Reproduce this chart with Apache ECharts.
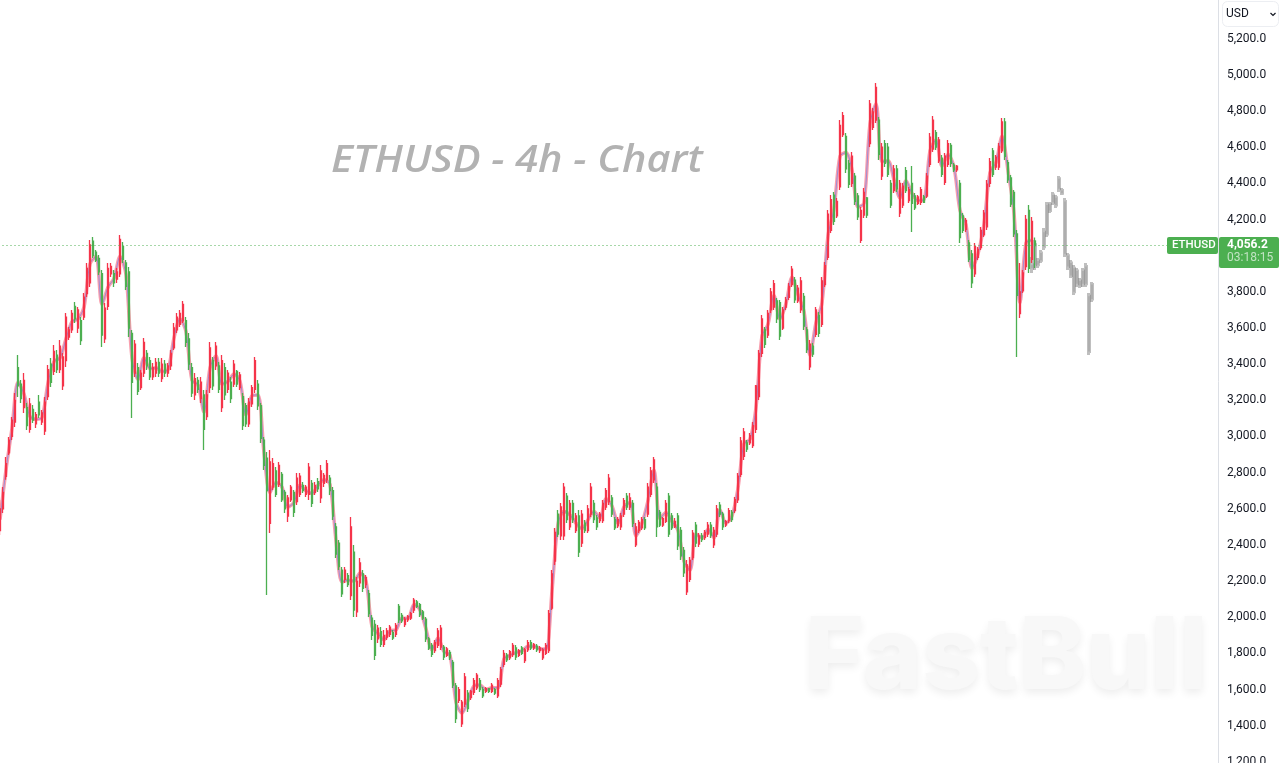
<!DOCTYPE html>
<html><head><meta charset="utf-8">
<style>html,body{margin:0;padding:0;background:#fff}#c{width:1282px;height:763px}</style>
<script src="https://cdn.jsdelivr.net/npm/echarts@6/dist/echarts.min.js"></script>
</head><body><div id="c"></div>
<script>
// every row: [open, close, low, high]
const barsA = [[2480,2600,2455,2648],[2600,2690,2577,2720],[2780,2850,2760,2886],[2910,2980,2897,2997],[3000,3090,2980,3107],[3080,3200,3052,3240],[3380,3280,3218,3450],[3290,3210,3185,3312],[3160,3310,3130,3351],[3160,3060,3036,3185],[3040,3180,3020,3213],[3150,3090,3074,3174],[3070,3120,3047,3135],[3190,3120,3102,3229],[3080,3130,3063,3146],[3030,3190,3008,3218],[3220,3370,3202,3395],[3400,3300,3273,3434],[3360,3470,3340,3506],[3450,3370,3351,3478],[3370,3500,3351,3533],[3280,3440,3257,3462],[3420,3660,3384,3683],[3550,3590,3533,3605],[3590,3680,3572,3699],[3720,3650,3627,3744],[3600,3700,3572,3716],[3640,3530,3506,3661],[3660,3770,3644,3793],[3790,3930,3771,3959],[3850,4060,3827,4087],[4080,4000,3987,4103],[4020,3975,3965,4031],[3985,3910,3893,4004],[3900,3560,3495,3921],[3540,3710,3517,3738],[3720,3930,3699,3959],[3900,3940,3882,3959],[3900,3850,3827,3921],[3870,3910,3849,3932],[3900,4090,3882,4114],[4050,3980,3959,4076],[3960,3830,3810,3976],[3910,3600,3550,3937]];
const barsB = [[3570,3300,3102,3589],[3350,3510,3329,3533],[3380,3250,3229,3406],[3270,3350,3257,3368],[3350,3520,3329,3544],[3460,3390,3368,3478],[3420,3330,3312,3439],[3330,3380,3312,3406],[3350,3410,3329,3434],[3410,3350,3329,3434],[3320,3400,3301,3434],[3400,3350,3329,3423],[3350,3390,3329,3406],[3390,3460,3368,3478],[3490,3600,3478,3627],[3590,3660,3572,3683],[3620,3680,3605,3699],[3640,3730,3627,3749],[3640,3520,3495,3661],[3540,3400,3368,3572],[3380,3240,3218,3406],[3230,3320,3202,3351],[3310,3260,3240,3329],[3210,3300,3185,3329],[3230,3040,2925,3257],[3110,3230,3091,3257],[3270,3490,3240,3522],[3420,3280,3257,3439],[3390,3500,3368,3522],[3390,3260,3240,3412],[3160,3420,3135,3450],[3380,3230,3202,3406],[3260,3350,3240,3368],[3300,3210,3185,3329],[3290,3400,3273,3423],[3360,3290,3273,3368],[3270,3340,3257,3357],[3220,3060,3036,3240],[3170,3070,3052,3185],[3070,3190,3052,3213],[3180,3270,3163,3284],[3260,3420,3240,3439],[3290,3170,3146,3312],[3170,2990,2964,3185],[2980,2840,2814,2997]];
const barsC = [[2880,2700,2123,2914],[2520,2860,2466,2925],[2720,2850,2704,2881],[2810,2680,2665,2831],[2735,2840,2720,2859],[2790,2650,2637,2803],[2690,2600,2576,2704],[2560,2660,2527,2676],[2650,2720,2637,2732],[2690,2580,2554,2704],[2640,2770,2621,2798],[2680,2780,2665,2798],[2730,2700,2687,2748],[2680,2720,2665,2732],[2680,2830,2648,2853],[2740,2630,2610,2759],[2690,2730,2676,2748],[2750,2710,2693,2770],[2660,2810,2632,2842],[2740,2785,2720,2798],[2760,2850,2743,2870],[2770,2700,2676,2787],[2700,2560,2538,2720],[2500,2350,2328,2521],[2410,2280,2261,2427],[2260,2130,2112,2278],[2210,2260,2190,2278],[2230,2180,2167,2245],[2120,2500,2095,2554],[2360,2040,2002,2400],[2030,2200,2002,2223],[2190,2300,2167,2328],[2240,2160,2140,2261],[2180,2220,2162,2234],[2130,2020,2002,2151],[1995,1900,1874,2012],[1960,1790,1764,1985],[1880,1940,1858,1957],[1920,1850,1835,1946],[1850,1900,1835,1929],[1890,1925,1874,1940],[1905,1945,1891,1957],[1915,1885,1874,1929],[1905,1955,1891,1968],[2060,1985,1968,2073],[2010,1980,1968,2023],[1960,1990,1946,2002],[1985,2005,1974,2012],[1995,2020,1985,2029],[2040,2095,2023,2107],[2085,2060,2051,2095],[2070,2015,2002,2079],[2030,1995,1985,2040],[1990,1880,1863,2002],[1880,1830,1819,1891],[1845,1795,1780,1858],[1815,1860,1802,1874],[1845,1925,1830,1940],[1835,1940,1819,1957],[1835,1780,1764,1846],[1790,1825,1780,1835],[1805,1775,1764,1819]];
const barsD = [[1750,1625,1609,1764],[1620,1440,1415,1636],[1540,1600,1526,1614],[1410,1530,1393,1542],[1520,1670,1503,1692],[1580,1495,1476,1598],[1555,1590,1542,1598],[1585,1650,1570,1664],[1610,1680,1598,1692],[1650,1600,1586,1664],[1600,1565,1553,1614],[1590,1605,1581,1614],[1605,1590,1581,1609],[1590,1625,1581,1636],[1600,1580,1570,1609],[1565,1650,1553,1664],[1630,1710,1614,1725],[1740,1800,1725,1819],[1790,1765,1753,1802],[1775,1810,1764,1819],[1795,1845,1780,1858],[1830,1780,1764,1846],[1790,1815,1780,1824],[1830,1800,1791,1841],[1760,1820,1747,1830],[1820,1860,1808,1874],[1860,1830,1819,1874],[1830,1850,1819,1858],[1840,1820,1808,1852],[1815,1830,1802,1841],[1775,1820,1764,1830],[1800,1845,1791,1858],[1815,2020,1802,2040],[2050,2240,2040,2261],[2310,2470,2289,2494],[2570,2460,2444,2593],[2450,2610,2427,2632],[2450,2720,2427,2743]];
const barsE = [[2670,2540,2521,2687],[2500,2630,2483,2648],[2630,2540,2521,2648],[2480,2560,2466,2577],[2560,2360,2333,2593],[2410,2570,2388,2593],[2520,2480,2466,2538],[2480,2600,2466,2621],[2570,2720,2554,2743],[2630,2540,2521,2648],[2550,2500,2483,2565],[2535,2570,2521,2582],[2535,2630,2521,2648],[2610,2700,2593,2715],[2640,2770,2621,2792],[2660,2570,2554,2676],[2540,2495,2483,2554],[2505,2540,2494,2554],[2500,2560,2483,2577],[2570,2645,2554,2659],[2670,2610,2593,2687],[2610,2660,2593,2687],[2630,2520,2499,2648],[2400,2500,2388,2521],[2480,2525,2466,2538],[2495,2540,2483,2554],[2540,2495,2483,2554],[2570,2720,2554,2743],[2680,2810,2665,2831],[2760,2870,2743,2886],[2720,2500,2444,2743],[2580,2510,2499,2593],[2510,2545,2499,2554],[2530,2630,2521,2648],[2670,2460,2444,2687],[2560,2495,2483,2577],[2500,2530,2494,2549],[2560,2395,2372,2577],[2480,2340,2317,2499],[2370,2245,2223,2388],[2140,2290,2123,2317],[2210,2315,2195,2333],[2330,2465,2317,2483],[2510,2410,2388,2527],[2405,2450,2388,2466],[2450,2430,2416,2466],[2440,2470,2427,2483],[2460,2510,2444,2527],[2510,2455,2438,2527],[2400,2480,2383,2499],[2460,2600,2444,2621],[2620,2570,2554,2637],[2570,2500,2483,2582],[2510,2530,2499,2538],[2535,2590,2521,2604],[2580,2540,2527,2593],[2590,2650,2577,2665],[2650,2780,2632,2798]];
const barsF = [[2790,2975,2776,2997],[2890,3025,2870,3047],[2965,2930,2914,2980],[2965,3005,2953,3019],[2950,3060,2936,3080],[3040,3280,3019,3284],[3220,3460,3202,3478],[3460,3650,3439,3672],[3590,3510,3489,3605],[3560,3680,3544,3699],[3700,3800,3683,3821],[3715,3845,3699,3865],[3750,3650,3627,3766],[3740,3555,3533,3755],[3600,3700,3589,3716],[3715,3755,3699,3771],[3770,3830,3755,3849],[3840,3925,3827,3943],[3865,3755,3738,3882],[3750,3820,3738,3838],[3700,3860,3683,3882],[3775,3610,3589,3793],[3590,3480,3462,3605],[3385,3510,3368,3533],[3500,3455,3439,3517],[3565,3700,3550,3716],[3670,3570,3550,3688],[3620,3860,3605,3882],[3840,3945,3827,3965],[3990,4230,3976,4252],[4140,4310,4125,4335],[4335,4190,4170,4352],[4220,4300,4208,4319],[4380,4720,4363,4750],[4670,4775,4656,4794],[4660,4480,4457,4678],[4510,4395,4374,4529],[4400,4550,4380,4573],[4440,4300,4280,4457],[4330,4215,4197,4347],[4085,4250,4070,4269],[4225,4350,4208,4374],[4320,4225,4208,4324]];
const barsG = [[4620,4840,4601,4861],[4710,4795,4695,4817],[4750,4930,4734,4955],[4750,4560,4529,4767],[4440,4600,4418,4623],[4620,4510,4490,4640],[4600,4450,4435,4623],[4400,4280,4264,4418],[4360,4480,4347,4501],[4480,4370,4352,4501],[4235,4400,4214,4418],[4280,4385,4264,4402],[4470,4360,4347,4490],[4305,4365,4291,4380],[4400,4290,4131,4496],[4330,4265,4252,4347],[4290,4325,4280,4335],[4295,4365,4280,4380],[4325,4295,4291,4335],[4330,4440,4319,4457],[4505,4655,4490,4678],[4590,4750,4573,4772],[4680,4600,4584,4695],[4525,4640,4512,4656],[4540,4450,4435,4557],[4405,4550,4391,4568],[4505,4620,4490,4640],[4610,4510,4490,4623],[4500,4475,4463,4512],[4475,4495,4463,4501],[4400,4100,4070,4418],[4220,4140,4125,4236],[4145,4195,4131,4208],[4070,3980,3965,4087],[4010,3850,3821,4031],[3900,4050,3882,4070],[3990,4035,3976,4048],[4045,4140,4031,4158],[4115,4235,4103,4252],[4160,4395,4142,4418],[4400,4520,4380,4540],[4580,4450,4435,4595],[4490,4545,4474,4557],[4490,4605,4474,4623],[4580,4740,4568,4761],[4740,4550,4529,4761],[4515,4420,4402,4529],[4430,4285,4269,4446],[4350,4120,4103,4363],[4120,3780,3439,4142],[3680,3800,3655,3959],[3805,3905,3793,3921],[3940,4200,3921,4225],[4250,3930,3904,4280],[3980,4190,3959,4214],[4080,4056.2,3932,4100]];
// grey projected pattern
const ghostBars = [[3950,3930,3904,3992],[4060,3950,3921,4087],[3970,3950,3932,3987],[3975,4015,3959,4031],[4050,4130,4031,4153],[4120,4280,4103,4297],[4250,4285,4236,4297],[4335,4295,4280,4352],[4280,4320,4264,4335],[4370,4425,4352,4441],[4360,4345,4335,4374],[4300,4010,3992,4319],[4000,3940,3921,4015],[3960,3890,3876,3976],[3930,3800,3782,3948],[3845,3915,3827,3932],[3860,3835,3821,3876],[3845,3915,3827,3932],[3940,3845,3827,3959],[3775,3470,3450,3793],[3760,3840,3744,3854]];
// overlay line, one reading per two bars
const trendA = [2540,2815,3045,3300,3235,3110,3095,3105,3295,3415,3435,3540,3635,3650,3715,3955,3995,3730,3825,3875,3995,3895];
const trendB = [3435,3315,3435,3375,3380,3360,3370,3545,3650,3580,3310,3285,3135,3380,3445,3290,3305,3345,3305,3120,3225,3230,2910];
const trendC = [2690,2745,2720,2610,2635,2730,2700,2685,2730,2760,2735,2425,2195,2205,2200,2245,2200,1950,1910,1875,1925,1930,1995,1995,2070,2040,1935,1820,1885,1810,1790];
const trendD = [1530,1470,1540,1620,1625,1600,1610,1610,1770,1790,1805,1815,1840,1840,1825,1825,2145,2515,2585];
const trendE = [2565,2520,2490,2540,2585,2550,2655,2615,2520,2610,2635,2450,2520,2645,2815,2545,2580,2530,2480,2310,2260,2460,2440,2485,2440,2595,2520,2560,2715];
const trendF = [2960,2985,3160,3555,3620,3780,3650,3735,3880,3785,3690,3450,3630,3740,4110,4260,4550,4570,4475,4270,4290];
const trendG = [4730,4840,4520,4525,4420,4320,4415,4345,4305,4310,4580,4640,4495,4560,4490,4250,4170,3930,4010,4175,4460,4515,4660,4470,4235,3740,4070,4085];
const yTicks = {min:1200, max:5400, step:200};
const lastPrice = 4056.2;
const slots = 406;

const bars = [].concat(barsA,barsB,barsC,barsD,barsE,barsF,barsG);
const ghostStart = bars.length - 2;
const ghostData = new Array(ghostStart).fill('-').concat(ghostBars);
const categories = Array.from({length:slots},(_,i)=>String(i));
const trendPairs = [].concat(trendA,trendB,trendC,trendD,trendE,trendF,trendG).map((v,i)=>[i*2,v]);
const RED='#f5344a', GREEN='#4caf50', FONT='Roboto, "Noto Sans", sans-serif';
const GHOST='rgba(115,115,115,.46)';

const chart = echarts.init(document.getElementById('c'),null,{renderer:'canvas'});
chart.setOption({
  animation:false, backgroundColor:'#fff',
  grid:{left:-1.5,right:65.5,top:2.55,height:759.35,containLabel:false,outerBoundsMode:'none'},
  xAxis:{type:'category',data:categories,show:false,boundaryGap:true},
  yAxis:{type:'value',position:'right',min:yTicks.min,max:yTicks.max,interval:yTicks.step,scale:false,
    axisLine:{show:false},axisTick:{show:false},splitLine:{show:false},
    axisLabel:{color:'#131722',fontFamily:FONT,fontSize:12,margin:10.5,padding:[0,0,3,0],
      formatter:v=>v>=yTicks.max?'':v.toLocaleString('en-US',{minimumFractionDigits:1,maximumFractionDigits:1})}},
  series:[
    {type:'line',name:'trendPink',data:trendPairs,smooth:0.3,showSymbol:false,z:2,silent:true,
     lineStyle:{color:'#f77f93',width:3.5,opacity:.75}},
    {type:'line',name:'trendBlue',data:trendPairs,smooth:0.3,showSymbol:false,z:2,silent:true,
     lineStyle:{color:'#4f7df5',width:1,opacity:.55}},
    {type:'candlestick',name:'ghost',data:ghostData,barWidth:2,z:3,silent:true,
     itemStyle:{color:GHOST,color0:GHOST,borderColor:GHOST,borderColor0:GHOST,borderWidth:3}},
    {type:'candlestick',name:'ETHUSD',data:bars,barWidth:1.5,z:4,silent:true,
     itemStyle:{color:RED,color0:GREEN,borderColor:RED,borderColor0:GREEN,borderWidth:1.3},
     markLine:{silent:true,symbol:'none',animation:false,label:{show:false},
       lineStyle:{color:GREEN,type:[1,3],width:1},data:[{yAxis:lastPrice}]}}
  ],
  graphic:[
    {type:'text',z:0,left:805,top:608,silent:true,style:{text:'FastBull',fontFamily:'Inter, Lato, sans-serif',fontWeight:800,fontSize:101,fill:'#f8f8f8',textShadowColor:'rgba(0,0,0,.07)',textShadowBlur:9,textShadowOffsetY:4}},
    {type:'text',z:5,x:331,y:143,scaleX:1.12,silent:true,style:{text:'ETHUSD - 4h - Chart',fontFamily:'"Open Sans", "Noto Sans", sans-serif',fontStyle:'italic',fontWeight:600,fontSize:37,fill:'#b2b2b2'}},
    {type:'line',z:6,silent:true,shape:{x1:1218.5,y1:0,x2:1218.5,y2:763},style:{stroke:'#dcdfe5',lineWidth:1}},
    {type:'rect',z:6,silent:true,shape:{x:1222.5,y:1.5,width:56,height:25,r:5},style:{fill:'#fff',stroke:'#eceef2',lineWidth:1}},
    {type:'text',z:7,silent:true,left:1226,top:8,style:{text:'USD',fontFamily:FONT,fontSize:12,fill:'#131722'}},
    {type:'polyline',z:7,silent:true,shape:{points:[[1270.5,13],[1273,15.5],[1275.5,13]]},style:{stroke:'#131722',lineWidth:1.2,fill:'none'}},
    {type:'rect',z:6,silent:true,shape:{x:1167,y:237,width:51,height:17,r:2},style:{fill:GREEN}},
    {type:'text',z:7,silent:true,left:1172,top:239,style:{text:'ETHUSD',fontFamily:FONT,fontSize:11.5,fontWeight:500,fill:'#fff'}},
    {type:'rect',z:6,silent:true,shape:{x:1219,y:237,width:60,height:31,r:2},style:{fill:GREEN}},
    {type:'text',z:7,silent:true,left:1227,top:239,style:{text:lastPrice.toLocaleString('en-US',{minimumFractionDigits:1}),fontFamily:FONT,fontSize:12,fontWeight:700,fill:'#fff'}},
    {type:'text',z:7,silent:true,left:1227,top:252,style:{text:'03:18:15',fontFamily:FONT,fontSize:12,fill:'rgba(255,255,255,.65)'}}
  ]
});
</script></body></html>
